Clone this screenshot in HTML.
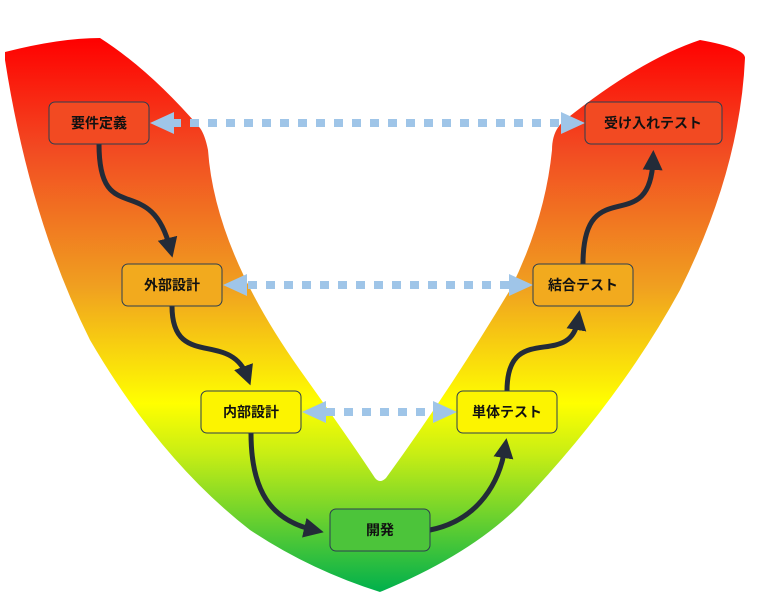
<!DOCTYPE html>
<html><head><meta charset="utf-8"><style>
html,body{margin:0;padding:0;background:#fff}
svg{display:block}
text{font-family:"Liberation Sans","Noto Sans CJK JP",sans-serif;font-size:14px;font-weight:bold;fill:#111}
</style></head><body>
<svg width="761" height="597" viewBox="0 0 761 597">
<defs>
<linearGradient id="g" x1="0" y1="38" x2="0" y2="592" gradientUnits="userSpaceOnUse">
<stop offset="0" stop-color="#ff0000"/>
<stop offset="0.2" stop-color="#f24a22"/>
<stop offset="0.45" stop-color="#f0a020"/>
<stop offset="0.66" stop-color="#ffff00"/>
<stop offset="0.75" stop-color="#c8ee14"/>
<stop offset="1" stop-color="#00b04c"/>
</linearGradient>
<marker id="ah" markerWidth="4" markerHeight="4" refX="2" refY="2" orient="auto" markerUnits="strokeWidth">
<path d="M0,0 L4,2 L0,4 z" fill="#232b38"/></marker>
</defs>
<path d="M5,52 Q60,38 100,38 Q150,70 200,128 Q205,135 208,150 Q215,250 300,370 Q350,440 375,478 Q380,484 386,478 Q450,390 510,290 Q545,220 552,150 Q552,130 565,120 Q640,60 700,40 Q745,48 745,58 Q740,170 680,290 Q620,400 520,505 Q470,555 380,592 Q310,570 250,530 Q160,460 90,340 Q30,220 5,60 Z" fill="url(#g)"/>
<g fill="none" stroke="#232b38" stroke-width="5">
<path d="M99,144 C99,230 150,170 170,248" marker-end="url(#ah)"/>
<path d="M172,306 C172,370 230,330 247,376" marker-end="url(#ah)"/>
<path d="M251,433 C251,490 270,520 314,530" marker-end="url(#ah)"/>
<path d="M430,530 C480,520 500,480 505,448" marker-end="url(#ah)"/>
<path d="M507,391 C507,320 570,370 578,320" marker-end="url(#ah)"/>
<path d="M583,264 C583,170 650,240 653,160" marker-end="url(#ah)"/>
</g>
<g stroke="#9fc5e8" stroke-width="8" stroke-dasharray="9 9">
<line x1="172" y1="123" x2="562" y2="123"/>
<line x1="248" y1="285" x2="510" y2="285"/>
<line x1="326" y1="412" x2="434" y2="412"/>
</g>
<g fill="#9fc5e8">
<path d="M150,123 L174,112 L174,134 z"/><path d="M585,123 L561,112 L561,134 z"/>
<path d="M223,285 L247,274 L247,296 z"/><path d="M533,285 L509,274 L509,296 z"/>
<path d="M302,412 L326,401 L326,423 z"/><path d="M457,412 L433,401 L433,423 z"/>
</g>
<g stroke="#2c3e50" stroke-width="1">
<rect x="49" y="102" width="100" height="42" rx="6" fill="#f24a22"/>
<rect x="122" y="264" width="100" height="42" rx="6" fill="#f2aa1e"/>
<rect x="201" y="391" width="100" height="42" rx="6" fill="#fcf400"/>
<rect x="330" y="509" width="100" height="42" rx="6" fill="#4cc43a"/>
<rect x="457" y="391" width="100" height="42" rx="6" fill="#fcf400"/>
<rect x="533" y="264" width="100" height="42" rx="6" fill="#f2aa1e"/>
<rect x="585" y="102" width="137" height="42" rx="6" fill="#f24a22"/>
</g>
<g text-anchor="middle">
<text x="99" y="128">要件定義</text>
<text x="172" y="290">外部設計</text>
<text x="251" y="417">内部設計</text>
<text x="380" y="535">開発</text>
<text x="507" y="417">単体テスト</text>
<text x="583" y="290">結合テスト</text>
<text x="653" y="128">受け入れテスト</text>
</g>
</svg>
</body></html>
